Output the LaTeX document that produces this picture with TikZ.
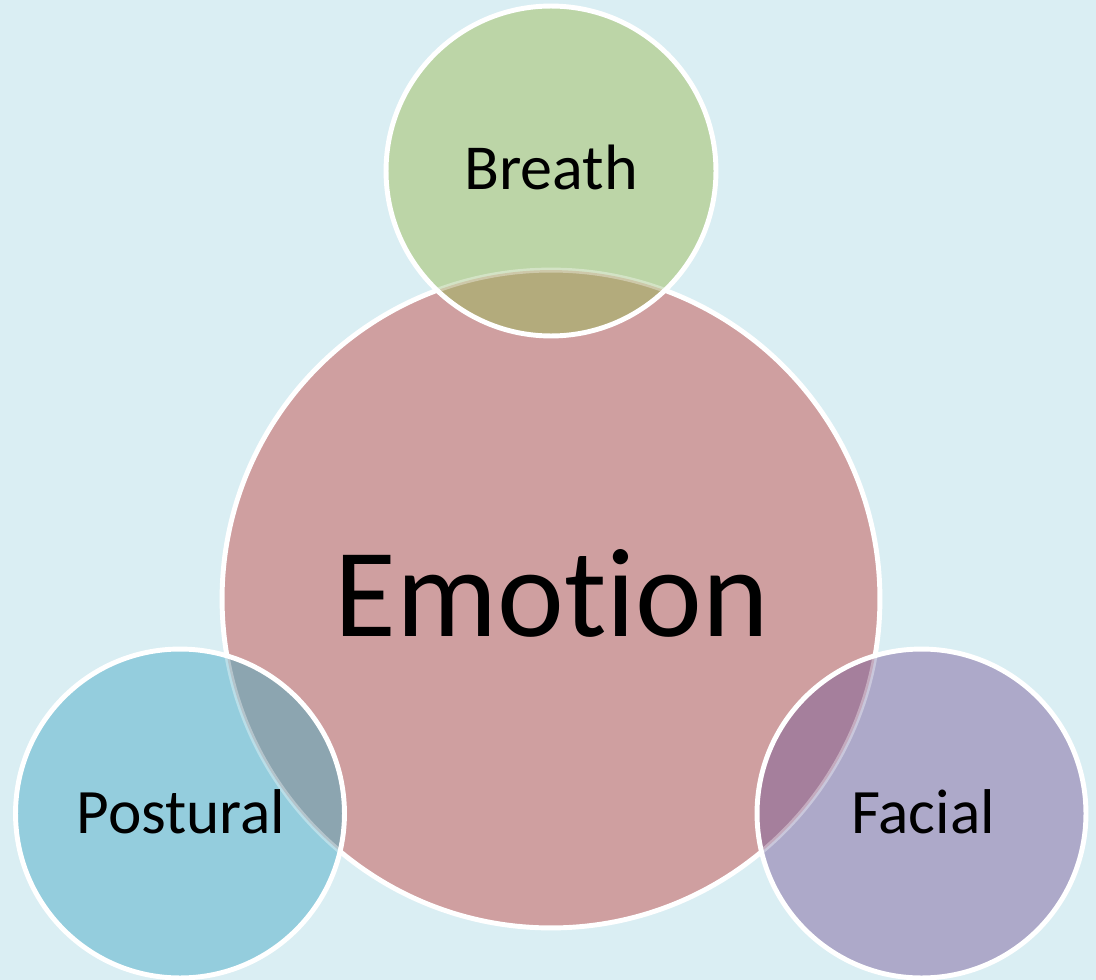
\documentclass[tikz,border=0pt]{standalone}
\usepackage{fontspec}
\setmainfont{Carlito}
\definecolor{bgc}{HTML}{DAEEF3}
\definecolor{emoc}{HTML}{CF9FA0}
\definecolor{brc}{HTML}{BCD5A7}
\definecolor{poc}{HTML}{94CDDD}
\definecolor{fac}{HTML}{ADA9C9}
\definecolor{brov}{HTML}{B3AB7C}
\definecolor{poov}{HTML}{8CA5B0}
\definecolor{faov}{HTML}{A57F9C}
\tikzset{
  rim/.style={draw=white, line width=2.8pt},
  ghostrim/.style={draw=white, draw opacity=0.35, line width=2.8pt},
  lbl/.style={anchor=base, inner sep=0pt, text=black},
}
\begin{document}
\begin{tikzpicture}[x=0.02cm,y=-0.02cm]
\fill[bgc] (0,0) rectangle (1096,980);
\useasboundingbox (0,0) rectangle (1096,980);
\coordinate (E) at (551,599);
\coordinate (B) at (551,171);
\coordinate (P) at (180,813.5);
\coordinate (F) at (921.5,813.5);
% central circle
\fill[emoc] (E) circle[radius=6.58cm];
\draw[rim] (E) circle[radius=6.58cm];
% Breath
\fill[brc] (B) circle[radius=3.3cm];
\begin{scope}
  \clip (B) circle[radius=3.3cm];
  \fill[brov] (E) circle[radius=6.58cm];
  \draw[ghostrim] (E) circle[radius=6.58cm];
\end{scope}
\draw[rim] (B) circle[radius=3.3cm];
% Postural
\fill[poc] (P) circle[radius=3.29cm];
\begin{scope}
  \clip (P) circle[radius=3.29cm];
  \fill[poov] (E) circle[radius=6.58cm];
  \draw[ghostrim] (E) circle[radius=6.58cm];
\end{scope}
\draw[rim] (P) circle[radius=3.29cm];
% Facial
\fill[fac] (F) circle[radius=3.29cm];
\begin{scope}
  \clip (F) circle[radius=3.29cm];
  \fill[faov] (E) circle[radius=6.58cm];
  \draw[ghostrim] (E) circle[radius=6.58cm];
\end{scope}
\draw[rim] (F) circle[radius=3.29cm];
% labels
\node[lbl, font=\fontsize{72}{80}\selectfont] (emotion) at (552,636) {Emot\kern0pt ion};
\node[lbl, font=\fontsize{36.5}{41}\selectfont] (breath) at (551,190) {Breath};
\node[lbl, font=\fontsize{36}{40}\selectfont] (postural) at (181,833) {Postural};
\node[lbl, font=\fontsize{36}{40}\selectfont] (facial) at (923,833) {Facial};
\end{tikzpicture}
\end{document}
